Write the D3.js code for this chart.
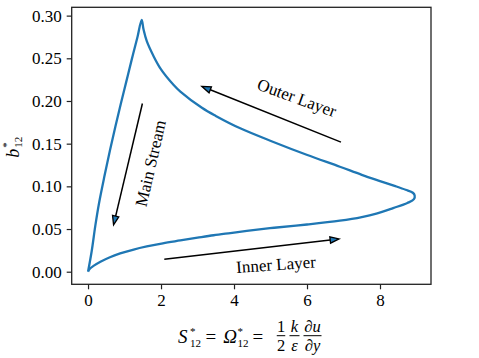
<!DOCTYPE html>
<html>
<head>
<meta charset="utf-8">
<script src="https://cdn.jsdelivr.net/npm/d3@7"></script>
<style>
  html, body { margin: 0; padding: 0; background: #fff; }
  svg { display: block; }
  text { font-family: "Liberation Serif", "DejaVu Serif", serif; fill: #000; }
</style>
</head>
<body>
<div id="chart"></div>
<script>
// cycle of the anisotropy b12 against the shear parameter
// order: inner layer (lower branch) -> outer layer (upper branch) -> main stream (left branch)
const sVals = [0, 0.05, 0.15, 0.34, 0.6, 0.88, 1.25, 1.61, 2.05, 2.53, 3.0, 3.44, 3.9, 4.35, 5.1, 6.0, 6.9, 7.5, 7.9, 8.36, 8.75, 8.93,
               8.95, 8.9, 8.7, 8.4, 8.0, 7.5, 6.9, 5.99, 5.08, 4.17, 3.5, 3.12, 2.53, 2.34, 2.0, 1.79, 1.61, 1.52, 1.47,
               1.35, 1.2, 1.05, 0.9, 0.75, 0.6, 0.45, 0.3, 0.2, 0.1, 0];
const bVals = [0, 0.0035, 0.0068, 0.0117, 0.017, 0.0214, 0.026, 0.0296, 0.0333, 0.0366, 0.0398, 0.0427, 0.0453, 0.0478, 0.0515, 0.0553, 0.0598, 0.064, 0.068, 0.0745, 0.0805, 0.085,
               0.0893, 0.0925, 0.096, 0.1005, 0.1062, 0.1135, 0.123, 0.137, 0.152, 0.168, 0.1825, 0.192, 0.211, 0.219, 0.237, 0.253, 0.270, 0.284, 0.295,
               0.274, 0.249, 0.223, 0.197, 0.170, 0.142, 0.112, 0.080, 0.054, 0.024, 0];

const xTicks = [0, 2, 4, 6, 8];
const yTicks = [0.00, 0.05, 0.10, 0.15, 0.20, 0.25, 0.30];

// annotations: arrow tail, arrow head, text anchor, rotation
const annLabels = ['Outer Layer', 'Main Stream', 'Inner Layer'];
const annTail = [[6.93, 0.1518], [1.49, 0.197], [2.09, 0.0145]];
const annHead = [[3.12, 0.217], [0.70, 0.0548], [6.88, 0.0384]];
const annText = [[5.72, 0.2035], [1.72, 0.127], [5.15, 0.0082]];
const annRot = [20, -77, -4];

const width = 479, height = 358;
const margin = { top: 7.3, right: 48, bottom: 73.7, left: 71.7 };
const serif = '"Liberation Serif", "DejaVu Serif", serif';

const svg = d3.select('#chart').append('svg')
    .attr('width', width)
    .attr('height', height);

const x = d3.scaleLinear()
    .domain([-0.4475, 9.3975])
    .range([margin.left, width - margin.right]);
const y = d3.scaleLinear()
    .domain([-0.01475, 0.30975])
    .range([height - margin.bottom, margin.top]);

// axes
const xAxis = svg.append('g')
    .attr('transform', 'translate(0,' + (height - margin.bottom) + ')')
    .call(d3.axisBottom(x).tickValues(xTicks).tickFormat(d3.format('d')).tickSize(5).tickPadding(5));
const yAxis = svg.append('g')
    .attr('transform', 'translate(' + margin.left + ',0)')
    .call(d3.axisLeft(y).tickValues(yTicks).tickFormat(d3.format('.2f')).tickSize(5).tickPadding(5));

[xAxis, yAxis].forEach(function (a) {
    a.attr('font-family', serif).attr('font-size', 17);
    a.select('.domain').remove();
    a.selectAll('line').attr('stroke', '#222').attr('stroke-width', 1.2);
    a.selectAll('text')
        .attr('font-family', serif)
        .style('font-family', serif)
        .attr('font-size', 17)
        .attr('fill', '#111');
});

// frame
svg.append('rect')
    .attr('x', margin.left)
    .attr('y', margin.top)
    .attr('width', width - margin.right - margin.left)
    .attr('height', height - margin.bottom - margin.top)
    .attr('fill', 'none')
    .attr('stroke', '#222')
    .attr('stroke-width', 1.3);

// the curve
const pts = sVals.map(function (s, i) { return [s, bVals[i]]; });
const line = d3.line()
    .x(function (d) { return x(d[0]); })
    .y(function (d) { return y(d[1]); })
    .curve(d3.curveCatmullRom.alpha(0.5));

svg.append('path')
    .datum(pts)
    .attr('d', line)
    .attr('fill', 'none')
    .attr('stroke', '#1f77b4')
    .attr('stroke-width', 2.3)
    .attr('stroke-linejoin', 'miter');

// arrows
const headLen = 9, headHalf = 3.2;
annLabels.forEach(function (lab, i) {
    const x0 = x(annTail[i][0]), y0 = y(annTail[i][1]);
    const x1 = x(annHead[i][0]), y1 = y(annHead[i][1]);
    const ang = Math.atan2(y1 - y0, x1 - x0);
    const bx = x1 - headLen * Math.cos(ang), by = y1 - headLen * Math.sin(ang);
    svg.append('line')
        .attr('x1', x0).attr('y1', y0)
        .attr('x2', bx).attr('y2', by)
        .attr('stroke', '#000')
        .attr('stroke-width', 1.5);
    const nx = -Math.sin(ang), ny = Math.cos(ang);
    svg.append('path')
        .attr('d', 'M' + x1 + ',' + y1 +
            'L' + (bx + headHalf * nx) + ',' + (by + headHalf * ny) +
            'L' + (bx - headHalf * nx) + ',' + (by - headHalf * ny) + 'Z')
        .attr('fill', '#1f77b4')
        .attr('stroke', '#000')
        .attr('stroke-width', 1.3)
        .attr('stroke-linejoin', 'miter');

    const tx = x(annText[i][0]), ty = y(annText[i][1]);
    svg.append('text')
        .attr('transform', 'translate(' + tx + ',' + ty + ') rotate(' + annRot[i] + ')')
        .attr('text-anchor', 'middle')
        .attr('dominant-baseline', 'central')
        .attr('font-size', 17)
        .attr('fill', '#222')
        .text(lab);
});

// y label: b*_12 (one text, sup and sub stacked with tspans)
const ylab = svg.append('text')
    .attr('transform', 'translate(18.5,' + ((margin.top + height - margin.bottom) / 2) + ') rotate(-90)')
    .attr('x', -12).attr('y', 0)
    .attr('font-size', 18);
ylab.append('tspan').style('font-style', 'italic').text('b');
ylab.append('tspan').attr('font-size', 11).attr('dx', 1).attr('dy', -8.5).text('*');
ylab.append('tspan').attr('font-size', 11).attr('dx', -5.5).attr('dy', 12.3).text('12');

// x label: S*_12 = Ω*_12 = (1/2)(k/ε)(∂u/∂y)
const base = 343;
const xlab = svg.append('text')
    .attr('x', 178).attr('y', base)
    .attr('font-size', 19);
xlab.append('tspan').style('font-style', 'italic').text('S');
xlab.append('tspan').attr('font-size', 11).attr('dx', 2.5).attr('dy', -8.5).text('*');
xlab.append('tspan').attr('font-size', 11).attr('dx', -5.5).attr('dy', 12.3).text('12');
xlab.append('tspan').attr('dx', 4.5).attr('dy', -3.8).text('=');
xlab.append('tspan').style('font-style', 'italic').attr('dx', 7).text('Ω');
xlab.append('tspan').attr('font-size', 11).attr('dx', 0.5).attr('dy', -8.5).text('*');
xlab.append('tspan').attr('font-size', 11).attr('dx', -5.5).attr('dy', 12.3).text('12');
xlab.append('tspan').attr('dx', 4).attr('dy', -3.8).text('=');

function put(txt, px, py, size, italic) {
    svg.append('text')
        .attr('x', px).attr('y', py)
        .attr('font-size', size)
        .attr('text-anchor', 'middle')
        .style('font-style', italic ? 'italic' : 'normal')
        .text(txt);
}
const barY = 335.7;
const fracs = [['1', '2', 281, 8.5, false], ['k', 'ε', 294.5, 10, true], ['∂u', '∂y', 312.5, 18, true]];
fracs.forEach(function (f) {
    put(f[0], f[2], 331.5, 16.5, f[4]);
    put(f[1], f[2], 350.5, 16.5, f[4]);
    svg.append('line')
        .attr('x1', f[2] - f[3] / 2).attr('x2', f[2] + f[3] / 2)
        .attr('y1', barY).attr('y2', barY)
        .attr('stroke', '#000').attr('stroke-width', 1);
});
</script>
</body>
</html>
